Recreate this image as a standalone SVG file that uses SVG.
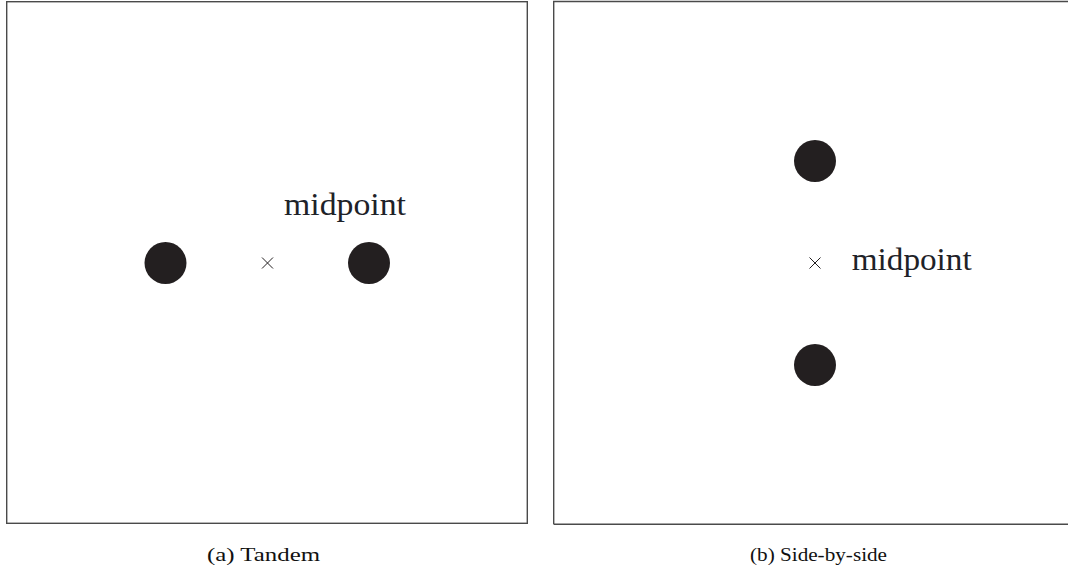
<svg xmlns="http://www.w3.org/2000/svg" width="1068" height="569" viewBox="0 0 1068 569">
<style>
.frame{fill:none;stroke:#4a4a4a;stroke-width:1.4}
.body{fill:#231f20}
.mark{stroke:#231f20;stroke-width:1;fill:none}
.lbl{font-family:"Liberation Serif",serif;font-size:31px;fill:#1e2228}
.cap{font-family:"Liberation Serif",serif;font-size:19px;fill:#111}
</style>
<g id="panel-a">
<rect class="frame" x="6.7" y="1.7" width="520.6" height="521.6"/>
<g id="a-body1"><circle class="body" cx="165.5" cy="263" r="21"/></g>
<g id="a-body2"><circle class="body" cx="369" cy="263" r="21"/></g>
<g id="a-mid"><path class="mark" d="M262,257.5 L273,268.5 M273,257.5 L262,268.5"/></g>
<text class="lbl" x="284" y="215" textLength="122" lengthAdjust="spacingAndGlyphs">midpoint</text>
<text class="cap" x="207" y="561" textLength="113" lengthAdjust="spacingAndGlyphs">(a)  Tandem</text>
</g>
<g id="panel-b">
<path class="frame" d="M553.7,524.3 L553.7,1.5 L1068,1.5 M553.7,524.3 L1068,524.3"/>
<g id="b-body1"><circle class="body" cx="815" cy="161" r="21"/></g>
<g id="b-body2"><circle class="body" cx="815" cy="365" r="21"/></g>
<g id="b-mid"><path class="mark" d="M809.5,257.5 L820.5,268.5 M820.5,257.5 L809.5,268.5"/></g>
<text class="lbl" x="851.7" y="270" textLength="120" lengthAdjust="spacingAndGlyphs">midpoint</text>
<text class="cap" x="750" y="561" textLength="137" lengthAdjust="spacingAndGlyphs">(b)  Side-by-side</text>
</g>
<g id="connectors"/>
</svg>
